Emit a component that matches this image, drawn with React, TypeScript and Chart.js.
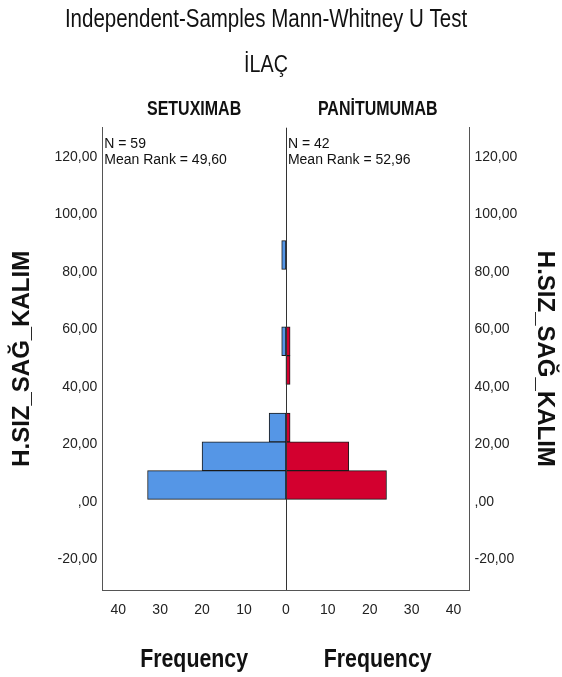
import React, { useEffect, useRef } from 'react';
import { Chart, registerables } from 'chart.js';

Chart.register(...registerables);

// ---- data ----
const binStarts = [0.8, 10.8, 20.8, 30.8, 40.8, 50.8, 60.8, 70.8, 80.8];
const binWidth = 10;
const setuximabFreq = [33, 20, 4, 0, 0, 1, 0, 0, 1];
const panitumumabFreq = [24, 15, 1, 0, 1, 1, 0, 0, 0];
const groupNames = ['SETUXIMAB', 'PANİTUMUMAB'];
const groupN = ['59', '42'];
const groupMeanRank = ['49,60', '52,96'];
const yTickValues = [-20, 0, 20, 40, 60, 80, 100, 120];
const xTickValues = [-40, -30, -20, -10, 0, 10, 20, 30, 40];
const yMin = -30.7;
const yMax = 130.1;
const xLimit = 43.8;
const chartTitle = 'Independent-Samples Mann-Whitney U Test';
const chartSubtitle = 'İLAÇ';
const yAxisTitle = 'H.SIZ_SAĞ_KALIM';
const xAxisTitle = 'Frequency';

const SANS = '"Liberation Sans", Arial, sans-serif';
const BLUE = '#5596e6';
const RED = '#d3002f';
const NARROW_SCALE = 0.82;

const fmtY = (v: number) => (v === 0 ? ',00' : v.toFixed(2).replace('.', ','));

function drawNarrow(ctx: CanvasRenderingContext2D, text: string, x: number, y: number, font: string, align: CanvasTextAlign) {
  ctx.save();
  ctx.font = font;
  ctx.textAlign = align;
  ctx.textBaseline = 'alphabetic';
  ctx.translate(x, y);
  ctx.scale(NARROW_SCALE, 1);
  ctx.fillText(text, 0, 0);
  ctx.restore();
}

const textPlugin = {
  id: 'textPlugin',
  afterDatasetsDraw(chart: any) {
    const { ctx, chartArea, scales } = chart;
    const x0 = Math.round(scales.x.getPixelForValue(0)) + 0.5;
    ctx.save();
    ctx.strokeStyle = '#333';
    ctx.lineWidth = 1;
    ctx.beginPath();
    ctx.moveTo(x0, chartArea.top);
    ctx.lineTo(x0, chartArea.bottom);
    ctx.stroke();
    ctx.restore();
  },
  afterDraw(chart: any) {
    const { ctx, chartArea, scales } = chart;
    const x0 = scales.x.getPixelForValue(0);
    const leftC = (chartArea.left + x0) / 2;
    const rightC = (x0 + chartArea.right) / 2;
    ctx.save();
    ctx.fillStyle = '#111';
    drawNarrow(ctx, chartTitle, 266, 27, `25px ${SANS}`, 'center');
    drawNarrow(ctx, chartSubtitle, 266, 72, `24px ${SANS}`, 'center');
    drawNarrow(ctx, groupNames[0], leftC, 115, `bold 19.5px ${SANS}`, 'center');
    drawNarrow(ctx, groupNames[1], rightC, 115, `bold 19.5px ${SANS}`, 'center');
    drawNarrow(ctx, xAxisTitle, leftC, 667, `bold 26px ${SANS}`, 'center');
    drawNarrow(ctx, xAxisTitle, rightC, 667, `bold 26px ${SANS}`, 'center');
    ctx.textAlign = 'left';
    ctx.textBaseline = 'alphabetic';
    ctx.font = `14px ${SANS}`;
    ctx.fillText(`N = ${groupN[0]}`, chartArea.left + 2, 148);
    ctx.fillText(`Mean Rank = ${groupMeanRank[0]}`, chartArea.left + 2, 164);
    ctx.fillText(`N = ${groupN[1]}`, x0 + 2, 148);
    ctx.fillText(`Mean Rank = ${groupMeanRank[1]}`, x0 + 2, 164);
    ctx.restore();
  },
};

export default function App() {
  const ref = useRef<HTMLCanvasElement | null>(null);
  useEffect(() => {
    if (!ref.current) return;
    const toPoints = (freq: number[], sign: number) =>
      binStarts
        .map((b, i) => ({ y: b + binWidth / 2, x: sign * freq[i] }))
        .filter((p) => p.x !== 0);
    const yTicksCommon = {
      color: '#222',
      font: { family: SANS, size: 14 },
      callback: (v: any) => fmtY(Number(v)),
    };
    const barStyle = {
      borderColor: '#1a1a1a',
      borderWidth: 1,
      borderSkipped: false,
      grouped: false,
      barPercentage: 1,
      categoryPercentage: 1,
    };
    const chart = new Chart(ref.current, {
      type: 'bar',
      data: {
        datasets: [
          {
            label: groupNames[0],
            data: toPoints(setuximabFreq, -1) as any,
            backgroundColor: BLUE,
            ...barStyle,
          },
          {
            label: groupNames[1],
            data: toPoints(panitumumabFreq, 1) as any,
            backgroundColor: RED,
            ...barStyle,
          },
        ],
      },
      options: {
        indexAxis: 'y',
        animation: false,
        responsive: false,
        devicePixelRatio: 1,
        layout: { padding: { top: 127.7, left: 0, right: 0, bottom: 0 } },
        plugins: {
          legend: { display: false },
          tooltip: { enabled: false },
          title: { display: false },
        },
        scales: {
          x: {
            type: 'linear',
            min: -xLimit,
            max: xLimit,
            offset: false,
            grid: { display: false, drawTicks: false, offset: false },
            border: { display: true, color: '#555', width: 1 },
            afterBuildTicks: (s: any) => {
              s.ticks = xTickValues.map((v) => ({ value: v }));
            },
            afterFit: (s: any) => {
              s.height = 87;
            },
            ticks: {
              color: '#222',
              padding: 12,
              maxRotation: 0,
              font: { family: SANS, size: 14 },
              callback: (v: any) => String(Math.abs(Number(v))),
            },
          },
          y: {
            type: 'linear',
            position: 'left',
            min: yMin,
            max: yMax,
            offset: false,
            grid: { display: false, drawTicks: false, offset: false },
            border: { display: true, color: '#555', width: 1 },
            afterBuildTicks: (s: any) => {
              s.ticks = yTickValues.map((v) => ({ value: v }));
            },
            afterFit: (s: any) => {
              s.width = 102.3;
            },
            ticks: { ...yTicksCommon, padding: 5 },
            title: {
              display: true,
              text: yAxisTitle,
              color: '#111',
              font: { family: SANS, size: 24, weight: 'bold' },
              padding: { top: 8, bottom: 0 },
            },
          },
          y2: {
            type: 'linear',
            position: 'right',
            min: yMin,
            max: yMax,
            offset: false,
            grid: { display: false, drawTicks: false, offset: false },
            border: { display: true, color: '#555', width: 1 },
            afterBuildTicks: (s: any) => {
              s.ticks = yTickValues.map((v) => ({ value: v }));
            },
            afterFit: (s: any) => {
              s.width = 92.5;
            },
            ticks: { ...yTicksCommon, padding: 5 },
            title: {
              display: true,
              text: yAxisTitle,
              color: '#111',
              font: { family: SANS, size: 24, weight: 'bold' },
              padding: { top: 3, bottom: 0 },
            },
          },
        },
      } as any,
      plugins: [textPlugin],
    });
    return () => chart.destroy();
  }, []);

  return (
    <div style={{ position: 'fixed', left: 0, top: 0, width: 562, height: 677, background: '#fff' }}>
      <canvas ref={ref} width={562} height={677} style={{ display: 'block' }} />
    </div>
  );
}
